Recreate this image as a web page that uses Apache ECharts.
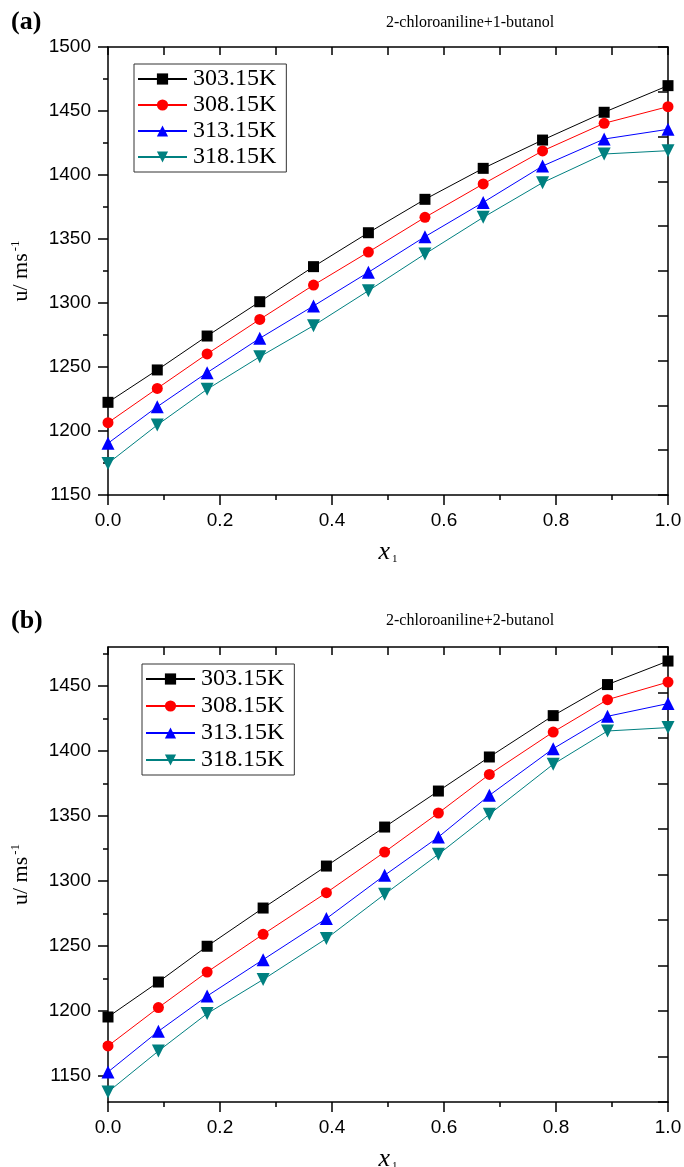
<!DOCTYPE html>
<html>
<head>
<meta charset="utf-8">
<script src="https://cdn.jsdelivr.net/npm/echarts@6/dist/echarts.min.js"></script>
<style>
  html, body { margin: 0; padding: 0; background: #fff; }
  #chart { width: 684px; height: 1167px; }
</style>
</head>
<body>
<div id="chart"></div>
<script>
// Speed of sound u (m/s) vs mole fraction x1 of 2-chloroaniline
const temps = ['303.15K', '308.15K', '313.15K', '318.15K'];

// (a) 2-chloroaniline + 1-butanol
const xA = [0, 0.088, 0.177, 0.271, 0.367, 0.465, 0.566, 0.670, 0.776, 0.886, 1.0];
const a303 = [1222.4, 1247.7, 1274.2, 1301.0, 1328.4, 1354.9, 1381.0, 1405.2, 1427.3, 1449.0, 1469.8];
const a308 = [1206.5, 1233.3, 1260.2, 1287.2, 1314.0, 1339.8, 1366.9, 1393.0, 1418.8, 1440.4, 1453.4];
const a313 = [1190.4, 1219.0, 1245.6, 1272.4, 1297.7, 1324.0, 1351.8, 1378.6, 1407.0, 1428.1, 1435.7];
const a318 = [1174.7, 1204.7, 1232.6, 1258.0, 1282.3, 1309.6, 1338.3, 1366.9, 1394.0, 1416.4, 1419.0];

// (b) 2-chloroaniline + 2-butanol
const xB = [0, 0.090, 0.177, 0.277, 0.390, 0.494, 0.590, 0.681, 0.795, 0.892, 1.0];
const b303 = [1195.4, 1222.3, 1249.8, 1279.2, 1311.5, 1341.5, 1369.2, 1395.4, 1427.2, 1451.1, 1469.2];
const b308 = [1173.1, 1202.6, 1230.0, 1259.0, 1291.0, 1322.3, 1352.3, 1382.0, 1414.6, 1439.5, 1453.0];
const b313 = [1153.1, 1184.4, 1211.5, 1239.5, 1271.1, 1304.4, 1333.8, 1365.9, 1401.8, 1426.7, 1436.5];
const b318 = [1137.7, 1169.2, 1198.0, 1224.2, 1255.7, 1289.8, 1320.5, 1351.3, 1389.8, 1415.4, 1418.0];

// axis ranges and tick values
const yRangeA = [1150, 1500];
const yRangeB = [1130, 1480];
const yMajorA = [1150, 1200, 1250, 1300, 1350, 1400, 1450, 1500];
const yMinorA = [1175, 1225, 1275, 1325, 1375, 1425, 1475];
const yMajorB = [1150, 1200, 1250, 1300, 1350, 1400, 1450];
const yMinorB = [1175, 1225, 1275, 1325, 1375, 1425, 1475];

const colors = ['#000000', '#ff0000', '#0000ff', '#008080'];
const symbols = ['rect', 'circle', 'triangle', 'triangle'];
const symbolSizes = [11, 11, 13, 13];
const rotations = [0, 0, 0, 180];

const SANS = '"Liberation Sans", Arial, sans-serif';
const SERIF = '"Liberation Serif", "Times New Roman", serif';
const AX = { lineStyle: { color: '#000', width: 1.5 } };

function panelAxes(gi, yRange, yMajor, yMinor) {
  const xs = [
    { // bottom
      gridIndex: gi, type: 'value', min: 0, max: 1, interval: 0.2, position: 'bottom',
      axisLine: AX, splitLine: { show: false },
      axisTick: { show: true, inside: false, length: 10, lineStyle: { color: '#000', width: 1.5 } },
      minorTick: { show: true, splitNumber: 2, length: 5, lineStyle: { color: '#000', width: 1.5 } },
      axisLabel: { fontFamily: SANS, fontSize: 19, color: '#000', margin: 16,
                   formatter: v => v.toFixed(1) },
      name: '{x|x}{s|1}', nameLocation: 'middle', nameGap: 44,
      nameTextStyle: { rich: {
        x: { fontFamily: SERIF, fontStyle: 'italic', fontSize: 26, color: '#000' },
        s: { fontFamily: SERIF, fontSize: 11, color: '#000', verticalAlign: 'bottom', padding: [12, 0, 0, 2] }
      } }
    },
    { // top frame
      gridIndex: gi, type: 'value', min: 0, max: 1, interval: 0.1, position: 'top',
      axisLine: AX, splitLine: { show: false }, axisLabel: { show: false },
      axisTick: { show: true, inside: true, length: 8, lineStyle: { color: '#000', width: 1.5 } }
    }
  ];
  const ys = [
    { // left, labelled
      gridIndex: gi, type: 'value', min: yRange[0], max: yRange[1], position: 'left',
      axisLine: AX, splitLine: { show: false },
      axisTick: { show: true, inside: false, length: 10, customValues: yMajor,
                  lineStyle: { color: '#000', width: 1.5 } },
      axisLabel: { fontFamily: SANS, fontSize: 19, color: '#000', margin: 17, customValues: yMajor,
                   formatter: v => String(v) },
      name: '{a|u/ ms}{b|-1}', nameLocation: 'middle', nameGap: 76,
      nameTextStyle: { rich: {
        a: { fontFamily: SERIF, fontSize: 22, color: '#000', verticalAlign: 'bottom' },
        b: { fontFamily: SERIF, fontSize: 13, color: '#000', verticalAlign: 'top', padding: [0, 0, 10, 2] }
      } }
    },
    { // left, minor ticks
      gridIndex: gi, type: 'value', min: yRange[0], max: yRange[1], position: 'left',
      axisLine: { show: false }, splitLine: { show: false }, axisLabel: { show: false },
      axisTick: { show: true, inside: false, length: 5, customValues: yMinor,
                  lineStyle: { color: '#000', width: 1.5 } }
    },
    { // right frame
      gridIndex: gi, type: 'value', min: 0, max: 10, interval: 1, position: 'right',
      axisLine: AX, splitLine: { show: false }, axisLabel: { show: false },
      axisTick: { show: true, inside: true, length: 10, lineStyle: { color: '#000', width: 1.5 } }
    }
  ];
  return { xs, ys };
}

const pA = panelAxes(0, yRangeA, yMajorA, yMinorA);
const pB = panelAxes(1, yRangeB, yMajorB, yMinorB);

function makeSeries(xVals, sets, xi, yi) {
  return sets.map((vals, k) => ({
    name: temps[k], type: 'line', xAxisIndex: xi, yAxisIndex: yi,
    data: xVals.map((x, i) => [x, vals[i]]),
    symbol: symbols[k], symbolSize: symbolSizes[k], symbolRotate: rotations[k],
    showAllSymbol: true, clip: false,
    lineStyle: { color: colors[k], width: 1 },
    itemStyle: { color: colors[k] },
    emphasis: { disabled: true }, animation: false
  }));
}

const legendBase = {
  orient: 'vertical', itemWidth: 49, itemHeight: 14, itemGap: 2,
  borderColor: '#333', borderWidth: 1, borderRadius: 0,
  textStyle: { fontFamily: SERIF, fontSize: 24, color: '#000', padding: [0, 0, 0, 1] },
  data: temps, selectedMode: false
};

const option = {
  backgroundColor: '#fff',
  animation: false,
  title: [
    { text: '(a)', left: 6, top: 4, textStyle: { fontFamily: SERIF, fontWeight: 'bold', fontSize: 26, color: '#000' } },
    { text: '2-chloroaniline+1-butanol', left: 381, top: 10, textStyle: { fontFamily: SERIF, fontWeight: 'normal', fontSize: 16, color: '#000' } },
    { text: '(b)', left: 6, top: 603, textStyle: { fontFamily: SERIF, fontWeight: 'bold', fontSize: 26, color: '#000' } },
    { text: '2-chloroaniline+2-butanol', left: 381, top: 608, textStyle: { fontFamily: SERIF, fontWeight: 'normal', fontSize: 16, color: '#000' } }
  ],
  legend: [
    Object.assign({}, legendBase, { left: 134, top: 64, padding: [3, 10, 3, 3] }),
    Object.assign({}, legendBase, { left: 142, top: 664, padding: [3, 10, 3, 3], itemGap: 3 })
  ],
  grid: [
    { left: 108, top: 47, width: 560, height: 448, outerBoundsMode: 'none' },
    { left: 108, top: 647, width: 560, height: 455, outerBoundsMode: 'none' }
  ],
  xAxis: pA.xs.concat(pB.xs),
  yAxis: pA.ys.concat(pB.ys),
  series: makeSeries(xA, [a303, a308, a313, a318], 0, 0)
    .concat(makeSeries(xB, [b303, b308, b313, b318], 2, 3))
};

const chart = echarts.init(document.getElementById('chart'), null, { renderer: 'canvas' });
chart.setOption(option);
</script>
</body>
</html>
